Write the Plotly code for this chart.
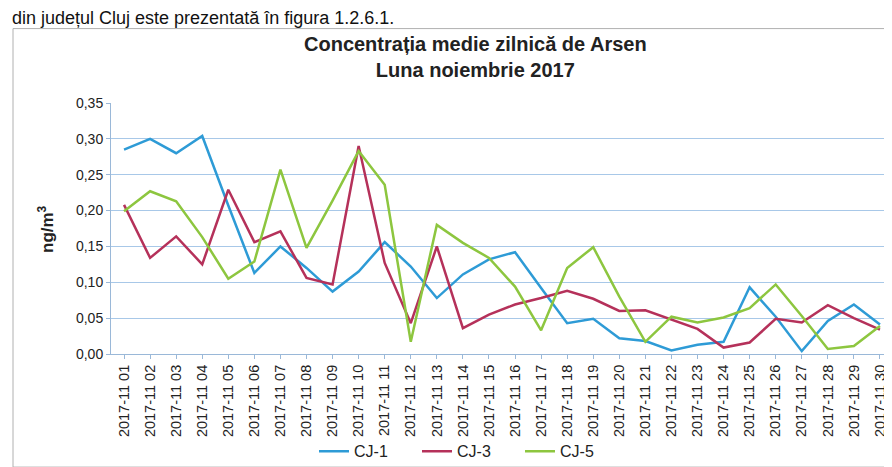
import plotly.graph_objects as go

days = [f"2017-11 {d:02d}" for d in range(1, 31)]

cj1 = [0.285, 0.300, 0.280, 0.304, 0.207, 0.113, 0.150, 0.120, 0.087, 0.115,
       0.156, 0.122, 0.078, 0.111, 0.132, 0.142, 0.092, 0.043, 0.049, 0.022,
       0.018, 0.005, 0.013, 0.017, 0.093, 0.052, 0.004, 0.046, 0.069, 0.041]
cj3 = [0.208, 0.134, 0.164, 0.125, 0.229, 0.156, 0.171, 0.106, 0.097, 0.290,
       0.127, 0.043, 0.150, 0.036, 0.055, 0.069, 0.078, 0.088, 0.077, 0.060,
       0.061, 0.048, 0.035, 0.009, 0.016, 0.049, 0.044, 0.068, 0.050, 0.034]
cj5 = [0.199, 0.227, 0.213, 0.163, 0.105, 0.129, 0.257, 0.148, 0.214, 0.283,
       0.236, 0.017, 0.180, 0.155, 0.134, 0.094, 0.033, 0.120, 0.149, 0.080,
       0.017, 0.052, 0.044, 0.051, 0.064, 0.097, 0.053, 0.007, 0.011, 0.039]

series = [("CJ-1", cj1, "#2E9BD6"), ("CJ-3", cj3, "#B5315A"), ("CJ-5", cj5, "#8DC63F")]

fig = go.Figure()
for name, vals, col in series:
    fig.add_trace(go.Scatter(x=days, y=vals, name=name, mode="lines",
                             line=dict(color=col, width=2.5)))

L, R, T, B = 103, 885, 95, 348
W, H = 892, 467
def px(x): return (x - L) / (R - L)
def py(y): return (B - y) / (B - T)

fig.update_layout(
    width=W, height=H,
    margin=dict(l=L, r=W - R, t=T, b=H - B),
    paper_bgcolor="white", plot_bgcolor="white",
    separators=",.",
    font=dict(family="Liberation Sans, Arial, sans-serif", color="#222222"),
    showlegend=True,
    legend=dict(orientation="h", x=px(306), xanchor="left", y=py(446), yanchor="middle",
                font=dict(size=16, color="#222"), entrywidth=58, entrywidthmode="pixels",
                bgcolor="rgba(0,0,0,0)"),
    xaxis=dict(type="category", tickangle=-90, tickfont=dict(size=14.5, color="#222"),
               showgrid=False, showline=True, linecolor="#9ab8d8", ticks="outside",
               ticklen=4, tickcolor="#9ab8d8", range=[-0.5, 29.5]),
    yaxis=dict(range=[0, 0.35], dtick=0.05, tickformat=".2f",
               tickfont=dict(size=14, color="#222"), gridcolor="#a8c8e8",
               showline=True, linecolor="#9ab8d8", zeroline=False,
               ticks="outside", ticklen=4, tickcolor="#9ab8d8"),
    annotations=[
        dict(text="<b>Concentrația medie zilnică de Arsen<br>Luna noiembrie 2017</b>",
             xref="paper", yref="paper", x=px(467), y=py(49), xanchor="center",
             yanchor="middle", showarrow=False, font=dict(size=20, color="#222")),
        dict(text="<b>ng/m<sup>3</sup></b>", xref="paper", yref="paper", x=px(38), y=py(222),
             textangle=-90, xanchor="center", yanchor="middle", showarrow=False,
             font=dict(size=17, color="#222")),
        dict(text="din județul Cluj este prezentată în figura 1.2.6.1.", xref="paper",
             yref="paper", x=px(2), y=py(9), xanchor="left", yanchor="middle",
             showarrow=False, font=dict(size=18, color="#111")),
    ],
    shapes=[
        dict(type="rect", xref="paper", yref="paper", x0=px(5), x1=px(900), y0=py(462),
             y1=py(20), line=dict(color="#b0b0b0", width=1)),
    ],
)

fig.write_html("out.html")
